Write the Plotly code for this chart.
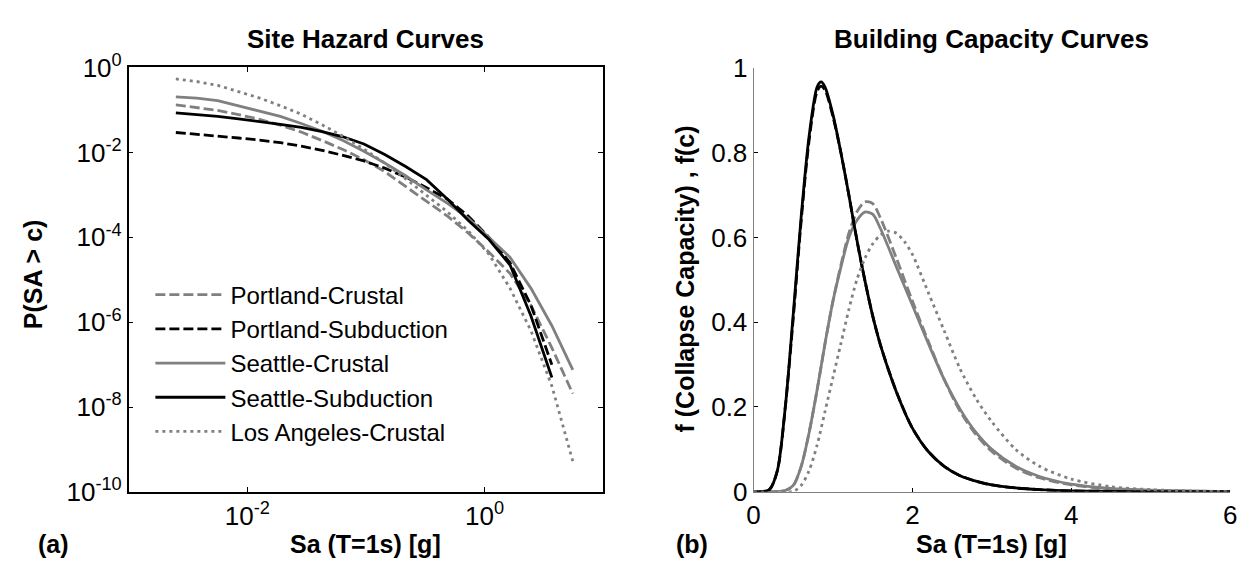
import plotly.graph_objects as go

# ---------------- data: (a) site hazard curves ----------------
HAZ_SA = [0.0025, 0.00375, 0.00563, 0.00844, 0.0127, 0.019, 0.0285, 0.0427, 0.0641, 0.0961,
          0.144, 0.216, 0.324, 0.487, 0.730, 1.09, 1.64, 2.46, 3.69, 5.54]

portland_crustal = [1.32e-1, 1.15e-1, 9.77e-2, 7.76e-2, 6.03e-2, 4.37e-2, 3.02e-2, 1.91e-2, 1.17e-2, 6.76e-3,
                    3.55e-3, 1.58e-3, 7.08e-4, 3.16e-4, 1.26e-4, 4.47e-5, 1.41e-5, 2.51e-6, 2.51e-7, 2.09e-8]
portland_subduction = [2.95e-2, 2.69e-2, 2.45e-2, 2.19e-2, 1.95e-2, 1.70e-2, 1.41e-2, 1.12e-2, 8.51e-3, 6.31e-3,
                       4.27e-3, 2.63e-3, 1.48e-3, 7.94e-4, 3.16e-4, 1.0e-4, 2.51e-5, 2.51e-6, 1.0e-7]
seattle_crustal = [2.04e-1, 1.91e-1, 1.66e-1, 1.26e-1, 9.55e-2, 7.08e-2, 4.79e-2, 3.16e-2, 1.91e-2, 1.07e-2,
                   5.62e-3, 2.82e-3, 1.32e-3, 6.31e-4, 2.82e-4, 1.0e-4, 3.39e-5, 6.31e-6, 8.32e-7, 7.59e-8]
seattle_subduction = [8.51e-2, 7.76e-2, 7.08e-2, 6.17e-2, 5.37e-2, 4.57e-2, 3.89e-2, 3.09e-2, 2.34e-2, 1.58e-2,
                      8.91e-3, 4.68e-3, 2.29e-3, 7.94e-4, 2.51e-4, 8.91e-5, 2.24e-5, 1.41e-6, 5.01e-8]
la_crustal = [5.37e-1, 4.68e-1, 3.80e-1, 2.75e-1, 1.91e-1, 1.26e-1, 7.94e-2, 4.47e-2, 2.40e-2, 1.20e-2,
              5.62e-3, 2.40e-3, 1.0e-3, 3.98e-4, 1.41e-4, 3.98e-5, 6.31e-6, 6.31e-7, 3.16e-8, 5.37e-10]

# ---------------- data: (b) building capacity curves ----------------
CAP_SA_SUB = [0, 0.1, 0.2, 0.3, 0.4, 0.5, 0.6, 0.7, 0.8, 0.85, 0.9, 1.0, 1.1, 1.2, 1.3, 1.4, 1.5, 1.6,
              1.8, 2.0, 2.2, 2.4, 2.6, 2.8, 3.0, 3.3, 3.6, 4.0, 4.5, 5.0, 6.0]
cap_seattle_sub = [0, 0, 0.005, 0.05, 0.2, 0.42, 0.65, 0.84, 0.955, 0.967, 0.955, 0.89, 0.80, 0.70, 0.595, 0.50,
                   0.415, 0.345, 0.235, 0.15, 0.095, 0.06, 0.038, 0.025, 0.016, 0.009, 0.005, 0.002, 0.001, 0, 0]
cap_portland_sub = [0, 0, 0.005, 0.05, 0.2, 0.41, 0.64, 0.83, 0.945, 0.957, 0.948, 0.885, 0.80, 0.70, 0.595, 0.50,
                    0.415, 0.345, 0.235, 0.15, 0.095, 0.06, 0.038, 0.025, 0.016, 0.009, 0.005, 0.002, 0.001, 0, 0]

CAP_SA_CR = [0, 0.4, 0.5, 0.6, 0.7, 0.8, 0.9, 1.0, 1.1, 1.2, 1.3, 1.4, 1.5, 1.6, 1.8, 2.0, 2.2, 2.4,
             2.6, 2.8, 3.0, 3.3, 3.6, 4.0, 4.5, 5.0, 5.5, 6.0]
cap_seattle_cr = [0, 0.003, 0.015, 0.06, 0.14, 0.24, 0.35, 0.45, 0.53, 0.60, 0.64, 0.66, 0.655, 0.62, 0.53,
                  0.44, 0.35, 0.265, 0.195, 0.14, 0.10, 0.06, 0.036, 0.018, 0.008, 0.004, 0.002, 0.0]
cap_portland_cr = [0, 0.003, 0.015, 0.06, 0.14, 0.24, 0.35, 0.45, 0.535, 0.61, 0.66, 0.684, 0.68, 0.645, 0.55,
                   0.45, 0.355, 0.265, 0.19, 0.135, 0.095, 0.056, 0.033, 0.016, 0.007, 0.003, 0.001, 0.0]

CAP_SA_LA = [0, 0.5, 0.6, 0.7, 0.8, 0.9, 1.0, 1.1, 1.2, 1.3, 1.4, 1.5, 1.6, 1.7, 1.8, 1.9, 2.0, 2.2,
             2.4, 2.6, 2.8, 3.0, 3.3, 3.6, 4.0, 4.5, 5.0, 5.5, 6.0]
cap_la_cr = [0, 0.001, 0.015, 0.05, 0.11, 0.19, 0.27, 0.35, 0.43, 0.50, 0.55, 0.585, 0.606, 0.615, 0.61, 0.59,
             0.56, 0.47, 0.38, 0.29, 0.22, 0.165, 0.10, 0.06, 0.03, 0.012, 0.005, 0.002, 0.0]

NAMES = ["Portland-Crustal", "Portland-Subduction", "Seattle-Crustal", "Seattle-Subduction", "Los Angeles-Crustal"]
HY_TICKS = [1e0, 1e-2, 1e-4, 1e-6, 1e-8, 1e-10]
HY_LABELS = ["10<sup>0</sup>", "10<sup>-2</sup>", "10<sup>-4</sup>", "10<sup>-6</sup>", "10<sup>-8</sup>", "10<sup>-10</sup>"]
HX_TICKS = [1e-2, 1e0]
HX_LABELS = ["10<sup>-2</sup>", "10<sup>0</sup>"]
CX_TICKS = [0, 2, 4, 6]
CY_TICKS = [0, 0.2, 0.4, 0.6, 0.8, 1]
CY_LABELS = ["0", "0.2", "0.4", "0.6", "0.8", "1"]

GRAY = "#808080"
BLACK = "#000000"
STYLES = [
    dict(color=GRAY, dash="10px,4px"),
    dict(color=BLACK, dash="10px,4px"),
    dict(color=GRAY, dash="solid"),
    dict(color=BLACK, dash="solid"),
    dict(color=GRAY, dash="3px,4px"),
]
LW = 2.8

FONT = "Liberation Sans, Arial, Helvetica, sans-serif"
W, H = 1250, 577

fig = go.Figure()

haz_x = [HAZ_SA, HAZ_SA[:len(portland_subduction)], HAZ_SA, HAZ_SA[:len(seattle_subduction)], HAZ_SA]
haz_y = [portland_crustal, portland_subduction, seattle_crustal, seattle_subduction, la_crustal]
for name, xs, ys, st in zip(NAMES, haz_x, haz_y, STYLES):
    fig.add_trace(go.Scatter(x=xs, y=ys, mode="lines", name=name,
                             line=dict(color=st["color"], dash=st["dash"], width=LW),
                             xaxis="x", yaxis="y", showlegend=True))

cap_x = [CAP_SA_CR, CAP_SA_SUB, CAP_SA_CR, CAP_SA_SUB, CAP_SA_LA]
cap_y = [cap_portland_cr, cap_portland_sub, cap_seattle_cr, cap_seattle_sub, cap_la_cr]
for name, xs, ys, st in zip(NAMES, cap_x, cap_y, STYLES):
    fig.add_trace(go.Scatter(x=xs, y=ys, mode="lines", name=name,
                             line=dict(color=st["color"], dash=st["dash"], width=LW,
                                       shape="spline", smoothing=0.8),
                             xaxis="x2", yaxis="y2", showlegend=False))


def px(xp):
    return xp / W


def py(yp):
    return 1 - yp / H


tickfont = dict(family=FONT, size=26, color="black")
fig.update_layout(
    width=W, height=H,
    margin=dict(l=0, r=0, t=0, b=0),
    paper_bgcolor="white", plot_bgcolor="white",
    font=dict(family=FONT, color="black"),
    xaxis=dict(domain=[px(123), px(603)], type="log", range=[-3, 1], anchor="y",
               tickvals=HX_TICKS, ticktext=HX_LABELS, ticks="inside", ticklen=5, tickcolor="black",
               showline=True, linecolor="black", linewidth=1.5, mirror="ticks",
               showgrid=False, zeroline=False, tickfont=tickfont),
    yaxis=dict(domain=[py(503), py(52.5)], type="log", range=[-10, 0], anchor="x",
               tickvals=HY_TICKS, ticktext=HY_LABELS, ticks="inside", ticklen=5, tickcolor="black",
               showline=True, linecolor="black", linewidth=1.5, mirror="ticks",
               showgrid=False, zeroline=False, tickfont=tickfont),
    xaxis2=dict(domain=[px(755), px(1237)], range=[0, 6], anchor="y2",
                tickvals=CX_TICKS, ticks="inside", ticklen=4, tickcolor="black",
                showline=True, linecolor=GRAY, linewidth=1, mirror=False,
                showgrid=False, zeroline=False, tickfont=tickfont),
    yaxis2=dict(domain=[py(502.5), py(53)], range=[0, 1], anchor="x2",
                tickvals=CY_TICKS, ticktext=CY_LABELS, ticks="inside", ticklen=4, tickcolor="black",
                showline=True, linecolor=GRAY, linewidth=1, mirror=False,
                showgrid=False, zeroline=False, tickfont=tickfont),
    legend=dict(x=px(145), y=py(270), xanchor="left", yanchor="top",
                bgcolor="rgba(0,0,0,0)", borderwidth=0, itemwidth=70,
                font=dict(family=FONT, size=24, color="black"), tracegroupgap=0),
    showlegend=True,
)

bold = dict(family=FONT, size=25, color="black")
annots = [
    dict(text="<b>Site Hazard Curves</b>", x=px(363), y=py(22), font=dict(family=FONT, size=26, color="black")),
    dict(text="<b>Building Capacity Curves</b>", x=px(996), y=py(22), font=dict(family=FONT, size=26, color="black")),
    dict(text="<b>Sa (T=1s) [g]</b>", x=px(363), y=py(558), font=bold),
    dict(text="<b>Sa (T=1s) [g]</b>", x=px(996), y=py(558), font=bold),
    dict(text="<b>(a)</b>", x=px(47), y=py(558), font=bold),
    dict(text="<b>(b)</b>", x=px(693), y=py(558), font=bold),
    dict(text="<b>P(SA > c)</b>", x=px(27), y=py(272), font=bold, textangle=-90),
    dict(text="<b>f (Collapse Capacity) , f(c)</b>", x=px(686), y=py(277), font=bold, textangle=-90),
]
for a in annots:
    fig.add_annotation(xref="paper", yref="paper", xanchor="center", yanchor="middle",
                       showarrow=False, **a)

fig.write_html("out.html")
